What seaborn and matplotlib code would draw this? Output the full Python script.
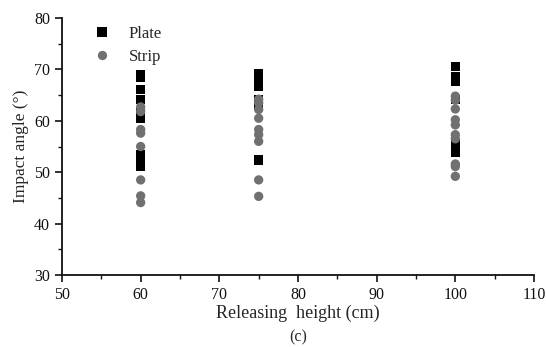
import numpy as np
import pandas as pd
import matplotlib
matplotlib.use('Agg')
import matplotlib.pyplot as plt
import seaborn as sns

# Values
plate_60 = [69.0, 68.5, 66.1, 64.1, 61.5, 60.5, 53.4, 52.8, 51.8, 51.1]
plate_75 = [69.2, 68.5, 67.7, 66.8, 62.9, 64.1, 52.4]
plate_100 = [70.6, 68.6, 67.7, 64.1, 55.7, 54.7, 53.9]
strip_60 = [62.7, 61.8, 58.3, 57.6, 55.0, 48.5, 45.4, 44.1]
strip_75 = [64.2, 63.5, 62.2, 60.5, 58.3, 57.3, 56.0, 48.5, 45.3]
strip_100 = [64.8, 64.0, 62.3, 60.2, 59.2, 57.3, 56.5, 51.6, 51.1, 49.2]
heights = [60, 75, 100]

rows = []
for h, vals in zip(heights, [plate_60, plate_75, plate_100]):
    rows += [('Plate', h, v) for v in vals]
for h, vals in zip(heights, [strip_60, strip_75, strip_100]):
    rows += [('Strip', h, v) for v in vals]
df = pd.DataFrame(rows, columns=['Type', 'Height', 'Angle'])

sns.set_style('ticks')
plt.rcParams['font.family'] = ['Liberation Serif', 'DejaVu Serif']

fig = plt.figure(figsize=(5.46, 3.47), dpi=100)
ax = fig.add_axes([62 / 546, 1 - 275 / 347, (534 - 62) / 546, (275 - 18) / 347])

sns.scatterplot(data=df, x='Height', y='Angle', hue='Type', style='Type',
                palette={'Plate': 'black', 'Strip': '#707070'},
                markers={'Plate': 's', 'Strip': 'o'},
                s=45, linewidth=0, ax=ax, zorder=3)

ax.set_xlim(50, 110)
ax.set_ylim(30, 80)
ax.set_xticks(np.arange(50, 111, 10))
ax.set_xticks(np.arange(55, 110, 10), minor=True)
ax.set_yticks(np.arange(30, 81, 10))
ax.set_yticks(np.arange(35, 80, 10), minor=True)
ax.tick_params(which='major', direction='out', length=5, width=1.2, labelsize=11.5, colors='#111111')
ax.tick_params(which='minor', direction='out', length=3, width=1, colors='#111111')
for sp in ['left', 'bottom']:
    ax.spines[sp].set_linewidth(1.3)
    ax.spines[sp].set_color('#111111')
sns.despine(ax=ax)

ax.set_xlabel('Releasing  height (cm)', fontsize=13, labelpad=1)
ax.set_ylabel('Impact angle (°)', fontsize=12.5, labelpad=4)
fig.text(298 / 546, 1 - 337 / 347, '(c)', ha='center', va='center', fontsize=11.5)

leg = ax.legend(loc='upper left', frameon=False, fontsize=12, title=None,
                handletextpad=0.6, labelspacing=0.45, borderaxespad=0.3,
                bbox_to_anchor=(0.025, 1.015))

fig.savefig('out.png', dpi=100)
